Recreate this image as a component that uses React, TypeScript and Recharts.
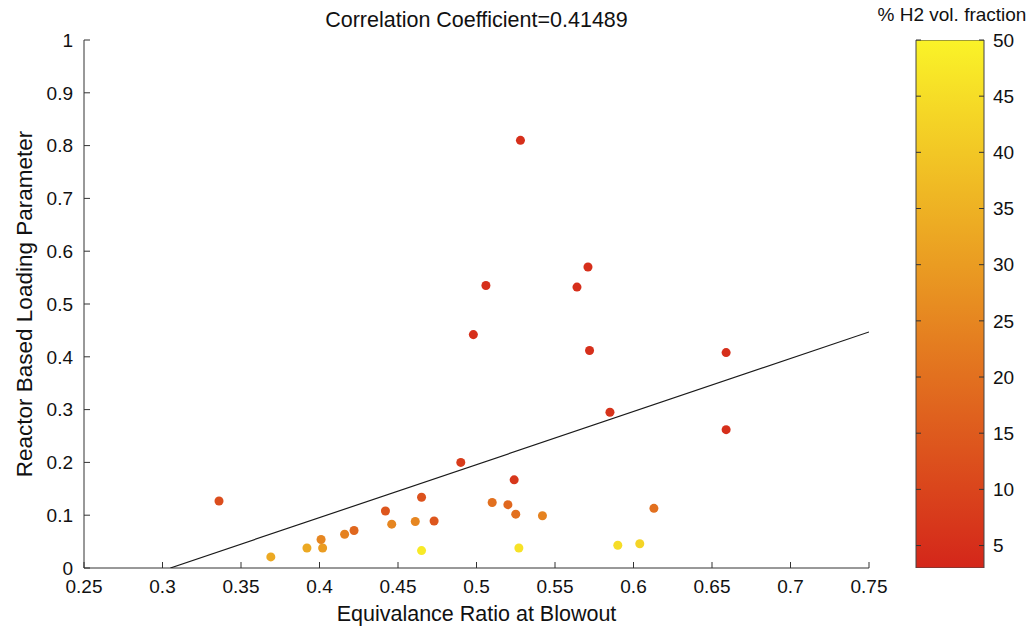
import React from "react";
import {
  ScatterChart, Scatter, XAxis, YAxis, ZAxis, Cell,
  ComposedChart, Bar,
} from "recharts";

// equivalence ratio at blowout, loading parameter, % H2 (colour)
const ratio = [
  0.336, 0.369, 0.392, 0.402, 0.401, 0.416, 0.422, 0.442, 0.446, 0.461, 0.465,
  0.465, 0.473, 0.490, 0.585, 0.524, 0.510, 0.520, 0.525, 0.542, 0.527, 0.590,
  0.604, 0.613, 0.528, 0.571, 0.506, 0.564, 0.498, 0.572, 0.659, 0.659,
];
const loading = [
  0.127, 0.021, 0.038, 0.038, 0.054, 0.064, 0.071, 0.108, 0.083, 0.088, 0.134,
  0.033, 0.089, 0.200, 0.295, 0.167, 0.124, 0.120, 0.102, 0.099, 0.038, 0.043,
  0.046, 0.113, 0.810, 0.570, 0.535, 0.532, 0.442, 0.412, 0.408, 0.262,
];
const h2 = [
  12, 33, 33, 30, 25, 24, 18, 14, 25, 25, 13,
  48, 14, 8, 6, 7, 20, 18, 20, 24, 46, 45,
  43, 20, 5, 5, 5, 5, 5, 5, 5, 5,
];

// least-squares line end points
const fitX = [0.305, 0.75];
const fitY = [0, 0.447];

const xTicks = [0.25, 0.3, 0.35, 0.4, 0.45, 0.5, 0.55, 0.6, 0.65, 0.7, 0.75];
const yTicks = [0, 0.1, 0.2, 0.3, 0.4, 0.5, 0.6, 0.7, 0.8, 0.9, 1];
const barTicks = [5, 10, 15, 20, 25, 30, 35, 40, 45, 50];
const barRange = [3, 50];

const points = ratio.map((x, i) => ({ x, y: loading[i], h2: h2[i] }));
const fit = fitX.map((x, i) => ({ x, y: fitY[i] }));
const colorbar = [{ name: "h2", span: barRange }];

const FONT = "'Liberation Sans', Arial, sans-serif";
const INK = "#111";

function h2Color(v: number) {
  const t = Math.max(0, Math.min(1, (v - barRange[0]) / (barRange[1] - barRange[0])));
  const r = Math.round(212 + t * (250 - 212));
  const g = Math.round(38 + t * (243 - 38));
  const b = Math.round(26 + t * (40 - 26));
  return `rgb(${r},${g},${b})`;
}

const gradStops = [50, 40, 30, 20, 10, 3];

export default function App() {
  return (
    <div style={{ position: "absolute", left: 0, top: 0, width: 1030, height: 626, background: "#fff", fontFamily: FONT }}>
      <svg width={0} height={0} style={{ position: "absolute" }}>
        <defs>
          <linearGradient id="cbar" x1="0" y1="0" x2="0" y2="1">
            {gradStops.map((v, i) => (
              <stop key={i} offset={`${((barRange[1] - v) / (barRange[1] - barRange[0])) * 100}%`} stopColor={h2Color(v)} />
            ))}
          </linearGradient>
        </defs>
      </svg>
      <div style={{ position: "absolute", left: 84, width: 785, top: 8, textAlign: "center", fontSize: 21.5, color: INK }}>
        Correlation Coefficient=0.41489
      </div>
      <div style={{ position: "absolute", left: 872, width: 160, top: 4, textAlign: "center", fontSize: 19, color: INK }}>
        % H2 vol. fraction
      </div>

      <div style={{ position: "absolute", left: 0, top: 0 }}>
        <ScatterChart width={900} height={626} margin={{ top: 40, right: 31, bottom: 0, left: 4 }}>
          <XAxis
            type="number"
            dataKey="x"
            domain={[0.25, 0.75]}
            ticks={xTicks}
            allowDataOverflow
            height={58}
            tickSize={-6}
            tickMargin={18}
            stroke="#333"
            tick={{ fontSize: 19, fill: INK, fontFamily: FONT }}
            label={{ value: "Equivalance Ratio at Blowout", position: "insideBottom", offset: 5, fontSize: 21.5, fill: INK, fontFamily: FONT }}
          />
          <YAxis
            type="number"
            dataKey="y"
            domain={[0, 1]}
            ticks={yTicks}
            allowDataOverflow
            width={80}
            tickSize={-6}
            tickMargin={17}
            stroke="#333"
            tick={{ fontSize: 19, fill: INK, fontFamily: FONT }}
            label={{ value: "Reactor Based Loading Parameter", angle: -90, position: "insideLeft", offset: 20, fontSize: 22.5, fill: INK, fontFamily: FONT, style: { textAnchor: "middle" } }}
          />
          <ZAxis range={[40, 40]} />
          <Scatter
            data={fit}
            line={{ stroke: "#1a1a1a", strokeWidth: 1.2 }}
            shape={() => <g />}
            isAnimationActive={false}
          />
          <Scatter data={points} isAnimationActive={false}>
            {points.map((p, i) => (
              <Cell key={i} fill={h2Color(p.h2)} />
            ))}
          </Scatter>
        </ScatterChart>
      </div>

      <div style={{ position: "absolute", left: 915, top: 0 }}>
        <ComposedChart
          width={115}
          height={626}
          data={colorbar}
          margin={{ top: 40, right: 0, bottom: 58, left: 0 }}
          barCategoryGap={0}
        >
          <XAxis dataKey="name" type="category" hide />
          <YAxis
            yAxisId="l"
            type="number"
            orientation="left"
            domain={barRange}
            ticks={barTicks}
            allowDataOverflow
            width={1}
            axisLine={false}
            tick={{ fill: "none", fontSize: 1 }}
            tickSize={-5}
            stroke="#333"
          />
          <YAxis
            yAxisId="r"
            type="number"
            orientation="right"
            domain={barRange}
            ticks={barTicks}
            allowDataOverflow
            width={46}
            axisLine={false}
            tickSize={-5}
            tickMargin={14}
            stroke="#333"
            tick={{ fontSize: 19, fill: INK, fontFamily: FONT }}
          />
          <Bar
            yAxisId="r"
            dataKey="span"
            fill="url(#cbar)"
            stroke="#444"
            strokeWidth={1}
            isAnimationActive={false}
          />
        </ComposedChart>
      </div>
    </div>
  );
}
